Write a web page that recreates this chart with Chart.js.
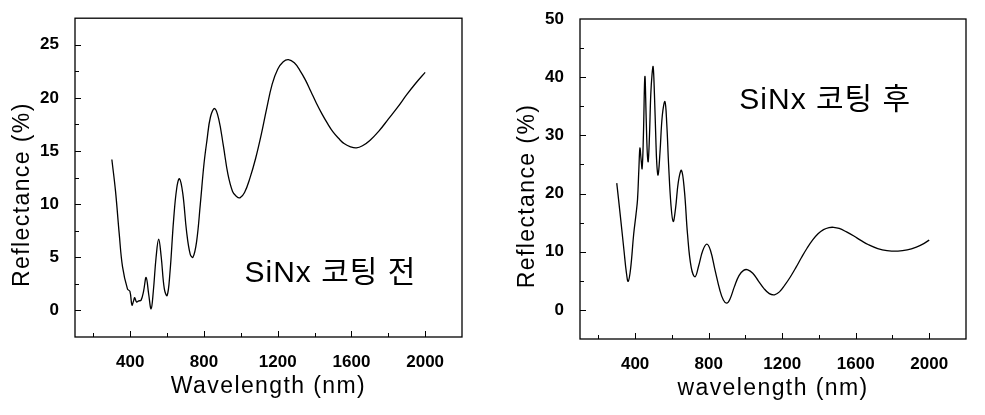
<!DOCTYPE html>
<html>
<head>
<meta charset="utf-8">
<script src="https://cdn.jsdelivr.net/npm/chart.js"></script>
<style>
  body { margin: 0; background: #fff; width: 985px; height: 415px; overflow: hidden; }
  .box { position: absolute; top: 0; height: 415px; }
</style>
</head>
<body>
<div class="box" style="left:0;width:490px"><canvas id="before"></canvas></div>
<div class="box" style="left:490px;width:495px"><canvas id="after"></canvas></div>
<script>
// before coating (SiNx 코팅 전)
var beforeWl = [300, 320, 340, 358, 385, 398, 409, 418, 424, 434, 446, 458, 472, 486, 500, 513, 525, 540, 554, 568, 585, 600, 615, 635, 652, 667, 685, 705, 725, 740, 760, 780, 800, 816, 835, 858, 880, 905, 930, 955, 975, 995, 1020, 1050, 1080, 1110, 1140, 1170, 1200, 1230, 1258, 1290, 1320, 1350, 1380, 1410, 1440, 1470, 1500, 1530, 1560, 1595, 1627, 1660, 1700, 1750, 1800, 1850, 1900, 1950, 2000];
var beforeRefl = [14.2, 11.2, 7.2, 4.1, 2.0, 1.8, 0.5, 0.9, 1.2, 0.8, 0.9, 0.95, 1.8, 3.1, 1.5, 0.15, 1.8, 5.0, 6.7, 5.0, 2.0, 1.4, 3.5, 8.5, 11.5, 12.4, 11.0, 7.5, 5.3, 5.0, 6.5, 10.0, 13.8, 16.0, 18.2, 19.0, 18.0, 15.5, 12.8, 11.2, 10.75, 10.6, 11.1, 12.5, 14.3, 16.5, 19.0, 21.3, 22.7, 23.4, 23.6, 23.3, 22.6, 21.7, 20.6, 19.5, 18.5, 17.6, 16.8, 16.2, 15.7, 15.4, 15.3, 15.5, 16.0, 16.9, 18.0, 19.1, 20.3, 21.4, 22.4];

// after coating (SiNx 코팅 후)
var afterWl = [300, 320, 340, 352, 362, 375, 392, 405, 413, 420, 426, 432, 438, 445, 453, 460, 466, 471, 478, 485, 492, 498, 505, 512, 518, 525, 535, 548, 562, 572, 582, 595, 607, 620, 635, 652, 668, 685, 705, 726, 745, 768, 790, 810, 835, 860, 880, 898, 915, 940, 965, 990, 1013, 1040, 1070, 1100, 1130, 1158, 1185, 1215, 1245, 1275, 1305, 1335, 1365, 1395, 1425, 1455, 1480, 1510, 1550, 1590, 1630, 1670, 1720, 1770, 1830, 1880, 1930, 1970, 2000];
var afterRefl = [21.8, 16, 10, 6.5, 4.9, 7, 13, 16.5, 19, 24, 27.8, 26, 24.3, 30, 40.1, 33, 27, 25.5, 30, 37, 40.5, 41.8, 37, 30, 25, 23.2, 27, 33.5, 35.8, 32, 25, 18, 15.2, 17.5, 22, 24, 20.5, 13, 7.3, 5.7, 7.5, 10.2, 11.3, 10.2, 6.8, 3.5, 1.7, 1.15, 1.8, 4.0, 5.9, 6.8, 6.9, 6.3, 5.0, 3.7, 2.8, 2.6, 3.1, 4.3, 5.7, 7.3, 9.0, 10.6, 12.0, 13.1, 13.8, 14.15, 14.2, 14.0, 13.4, 12.7, 11.9, 11.2, 10.55, 10.2, 10.1, 10.3, 10.8, 11.4, 12.0];

var xTicks = [400, 800, 1200, 1600, 2000];
var beforeYTicks = [0, 5, 10, 15, 20, 25];
var afterYTicks = [0, 10, 20, 30, 40, 50];

var FONT = '"Liberation Sans", Arial, "Noto Sans CJK KR", sans-serif';

// frame, inward tick marks, axis titles and the label inside the plot
var framePlugin = {
  id: 'frame',
  afterDraw: function (chart, args, opts) {
    var ctx = chart.ctx, a = chart.chartArea;
    var xs = chart.scales.x, ys = chart.scales.y;
    ctx.save();
    ctx.strokeStyle = '#000';
    ctx.lineWidth = 1.3;
    ctx.strokeRect(a.left, a.top, a.right - a.left, a.bottom - a.top);

    ctx.lineWidth = 1;
    ctx.beginPath();
    function xMark(v, len) {
      if (v <= xs.min || v >= xs.max) return;
      var p = Math.round(xs.getPixelForValue(v)) + 0.5;
      ctx.moveTo(p, a.bottom); ctx.lineTo(p, a.bottom - len);
    }
    function yMark(v, len) {
      if (v <= ys.min || v >= ys.max) return;
      var p = Math.round(ys.getPixelForValue(v)) + 0.5;
      ctx.moveTo(a.left, p); ctx.lineTo(a.left + len, p);
    }
    var xt = opts.xTicks, yt = opts.yTicks;
    var xs2 = (xt[1] - xt[0]) / 2, ys2 = (yt[1] - yt[0]) / 2;
    xt.forEach(function (v) { xMark(v, 6); xMark(v - xs2, 4); xMark(v + xs2, 4); });
    yt.forEach(function (v) { yMark(v, 6); yMark(v - ys2, 4); yMark(v + ys2, 4); });
    ctx.stroke();

    ctx.fillStyle = '#000';
    ctx.letterSpacing = '1.4px';
    ctx.textAlign = 'center';
    ctx.textBaseline = 'middle';
    ctx.font = '23px ' + FONT;
    ctx.fillText(opts.xTitle, (a.left + a.right) / 2, a.bottom + 50);
    ctx.save();
    ctx.translate(a.left - 52, (a.top + a.bottom) / 2 + 17);
    ctx.rotate(-Math.PI / 2);
    ctx.fillText(opts.yTitle, 0, 0);
    ctx.restore();

    ctx.letterSpacing = '1px';
    ctx.font = '30px ' + FONT;
    ctx.fillText(opts.label, xs.getPixelForValue(opts.labelAt[0]), ys.getPixelForValue(opts.labelAt[1]));
    ctx.restore();
  }
};

function makeChart(id, wl, refl, yMin, yMax, yTicks, pad, yWidth, xHeight, texts) {
  var points = wl.map(function (w, i) { return { x: w, y: refl[i] }; });
  return new Chart(id, {
    type: 'line',
    data: {
      datasets: [{
        data: points,
        borderColor: '#000',
        borderWidth: 1.3,
        pointRadius: 0,
        tension: 0.4,
        fill: false
      }]
    },
    options: {
      responsive: true,
      maintainAspectRatio: false,
      animation: false,
      events: [],
      layout: { padding: pad },
      plugins: {
        legend: { display: false },
        tooltip: { enabled: false },
        frame: {
          xTicks: xTicks, yTicks: yTicks,
          xTitle: texts.xTitle, yTitle: 'Reflectance (%)',
          label: texts.label, labelAt: texts.labelAt
        }
      },
      scales: {
        x: {
          type: 'linear', min: 100, max: 2200,
          grid: { display: false }, border: { display: false },
          afterBuildTicks: function (s) { s.ticks = xTicks.map(function (v) { return { value: v }; }); },
          afterFit: function (s) { s.height = xHeight; },
          ticks: { color: '#000', padding: 7, maxRotation: 0, callback: function (v) { return String(v); },
                   font: { family: FONT, size: 17, weight: 'bold' } }
        },
        y: {
          min: yMin, max: yMax,
          grid: { display: false }, border: { display: false },
          afterBuildTicks: function (s) { s.ticks = yTicks.map(function (v) { return { value: v }; }); },
          afterFit: function (s) { s.width = yWidth; },
          ticks: { color: '#000', padding: 8, callback: function (v) { return String(v); },
                   font: { family: FONT, size: 17, weight: 'bold' } }
        }
      }
    },
    plugins: [framePlugin]
  });
}

makeChart('before', beforeWl, beforeRefl, -2.5, 27.5, beforeYTicks,
  { left: 0, top: 17, right: 28, bottom: 0 }, 75, 78,
  { xTitle: 'Wavelength (nm)', label: 'SiNx 코팅 전', labelAt: [1486, 3.5] });

makeChart('after', afterWl, afterRefl, -5, 50, afterYTicks,
  { left: 0, top: 19, right: 19, bottom: 0 }, 90, 76,
  { xTitle: 'wavelength (nm)', label: 'SiNx 코팅 후', labelAt: [1434, 35.9] });
</script>
</body>
</html>
